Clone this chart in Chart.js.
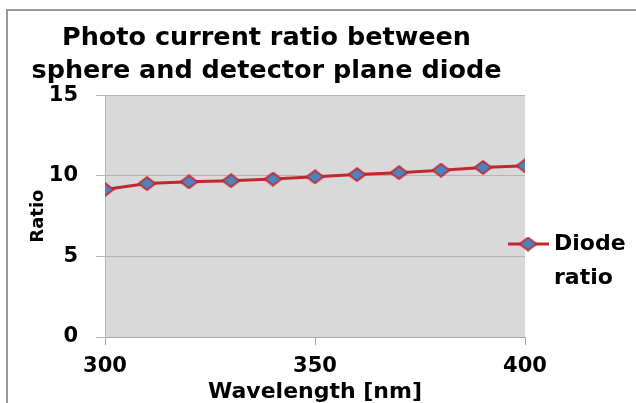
<!DOCTYPE html>
<html lang="en">
<head>
    <meta charset="UTF-8">
    <title>Photo current ratio between sphere and detector plane diode</title>
    <script src="https://cdn.jsdelivr.net/npm/chart.js"></script>
    <style>
        html, body { margin: 0; padding: 0; background: #ffffff; }
        #wrap { width: 636px; height: 403px; position: relative; }
    </style>
</head>
<body>
<div id="wrap"><canvas id="ratioChart"></canvas></div>

<script>
    // data
    const wavelengths = [300, 310, 320, 330, 340, 350, 360, 370, 380, 390, 400];
    const diodeRatio = [9.15, 9.52, 9.63, 9.7, 9.8, 9.94, 10.08, 10.2, 10.35, 10.52, 10.62];
    const xTicks = [300, 350, 400];
    const yTicks = [0, 5, 10, 15];
    const seriesName = 'Diode ratio';

    const FONT = '"DejaVu Sans", "Open Sans", sans-serif';
    const RED = '#c0282d';
    const BLUE = '#4f81bd';

    // wide diamond marker (wider than tall, like the original)
    function makeMarker() {
        const cv = document.createElement('canvas');
        cv.width = 19;
        cv.height = 15;
        const c = cv.getContext('2d');
        c.beginPath();
        c.moveTo(9.5, 1);
        c.lineTo(18, 7.5);
        c.lineTo(9.5, 14);
        c.lineTo(1, 7.5);
        c.closePath();
        c.fillStyle = BLUE;
        c.fill();
        c.strokeStyle = RED;
        c.lineWidth = 1.6;
        c.stroke();
        return cv;
    }
    const marker = makeMarker();

    // grey frame and plot background
    const framePlugin = {
        id: 'frame',
        beforeDraw(chart) {
            const c = chart.ctx, a = chart.chartArea;
            c.save();
            c.fillStyle = '#d9d9d9';
            c.fillRect(a.left, a.top, a.right - a.left, a.bottom - a.top);
            c.strokeStyle = '#9a9a9a';
            c.lineWidth = 2;
            c.beginPath();
            c.moveTo(7, 403);
            c.lineTo(7, 10);
            c.lineTo(636, 10);
            c.stroke();
            c.restore();
        }
    };

    // legend with wrapped label to the right of the plot
    const legendPlugin = {
        id: 'sideLegend',
        afterDraw(chart) {
            const c = chart.ctx;
            const y = 244;
            c.save();
            c.strokeStyle = RED;
            c.lineWidth = 3;
            c.beginPath();
            c.moveTo(508, y);
            c.lineTo(549, y);
            c.stroke();
            c.drawImage(marker, 528 - 9.5, y - 7.5);
            c.fillStyle = '#000000';
            c.font = 'bold 22px ' + FONT;
            c.textBaseline = 'middle';
            c.textAlign = 'left';
            const words = seriesName.split(' ');
            c.fillText(words[0], 554, y);
            c.fillText(words[1], 554, y + 34);
            c.restore();
        }
    };

    const ctx = document.getElementById('ratioChart').getContext('2d');
    new Chart(ctx, {
        type: 'line',
        data: {
            datasets: [{
                label: seriesName,
                data: wavelengths.map((w, i) => ({ x: w, y: diodeRatio[i] })),
                borderColor: RED,
                borderWidth: 3,
                backgroundColor: BLUE,
                pointStyle: marker,
                pointRadius: 8,
                tension: 0
            }]
        },
        options: {
            responsive: true,
            maintainAspectRatio: false,
            animation: false,
            layout: { padding: { left: 8, right: 111, top: 18, bottom: 0 } },
            plugins: {
                legend: { display: false },
                tooltip: { enabled: false },
                title: {
                    display: true,
                    text: ['Photo current ratio between', 'sphere and detector plane diode'],
                    color: '#000000',
                    font: { family: FONT, size: 25.5, weight: 'bold', lineHeight: 1.28 },
                    padding: { top: 4, bottom: 8 }
                }
            },
            scales: {
                x: {
                    type: 'linear',
                    min: 300,
                    max: 400,
                    afterBuildTicks(axis) { axis.ticks = xTicks.map(v => ({ value: v })); },
                    afterFit(axis) { axis.height = 66; },
                    grid: {
                        drawOnChartArea: false,
                        drawTicks: true,
                        tickLength: 8,
                        color: '#a6a6a6'
                    },
                    border: { display: true, color: '#a6a6a6' },
                    ticks: {
                        color: '#000000',
                        font: { family: FONT, size: 21, weight: 'bold', lineHeight: 1.1 },
                        padding: 10,
                        maxRotation: 0
                    },
                    title: {
                        display: true,
                        text: 'Wavelength [nm]',
                        color: '#000000',
                        font: { family: FONT, size: 22, weight: 'bold', lineHeight: 1.0 },
                        padding: { top: 0, bottom: 0 }
                    }
                },
                y: {
                    min: 0,
                    max: 15,
                    afterBuildTicks(axis) { axis.ticks = yTicks.map(v => ({ value: v })); },
                    afterFit(axis) { axis.width = 97; },
                    grid: {
                        color: '#b4b4b4',
                        tickLength: 9,
                        drawTicks: true
                    },
                    border: { display: true, color: '#b4b4b4' },
                    ticks: {
                        color: '#000000',
                        font: { family: FONT, size: 21, weight: 'bold' },
                        padding: 18
                    },
                    title: {
                        display: true,
                        text: 'Ratio',
                        color: '#000000',
                        font: { family: FONT, size: 18, weight: 'bold', lineHeight: 1.0 },
                        padding: { top: 21, bottom: 2 }
                    }
                }
            }
        },
        plugins: [framePlugin, legendPlugin]
    });
</script>
</body>
</html>
